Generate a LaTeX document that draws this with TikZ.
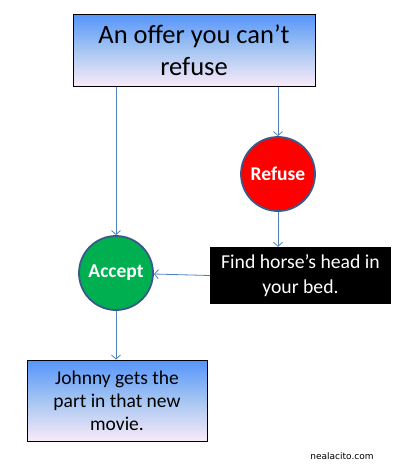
\documentclass[tikz,border=0pt]{standalone}
\usepackage{fontspec}
\setmainfont{Carlito}
\newfontfamily\sitefont{DejaVu Sans}
\usetikzlibrary{arrows.meta}
\definecolor{linkblue}{RGB}{79, 129, 189}
\definecolor{rimblue}{RGB}{56, 90, 138}
\definecolor{skyblue}{RGB}{85, 148, 250}
\definecolor{midblue}{RGB}{165, 198, 242}
\definecolor{palepink}{RGB}{250, 234, 248}
\definecolor{refusered}{RGB}{255, 0, 0}
\definecolor{acceptgreen}{RGB}{0, 176, 80}

\begin{document}
\begin{tikzpicture}[x=1pt, y=-1pt,
    gradbox/.style={rectangle, draw=black, line width=1pt, top color=skyblue, bottom color=palepink, middle color=midblue, align=center, inner sep=0pt},
    choice/.style={circle, draw=rimblue, line width=1.8pt, text=white, minimum size=74pt, inner sep=0pt, font=\fontsize{19.5}{23}\selectfont\bfseries},
    link/.style={-{Straight Barb[length=4pt, width=9pt]}, line width=0.8pt, linkblue}]
        \useasboundingbox (0,0) rectangle (400,472);
        \node[gradbox, minimum width=242pt, minimum height=72pt, font=\fontsize{26.5}{32}\selectfont] (offer) at (194,50) {An offer you can’t\\refuse};
        \node[choice, fill=refusered] (refuse) at (278,174) {Refuse};
        \node[choice, fill=acceptgreen] (accept) at (116,273) {Accept};
        \node[rectangle, fill=black, text=white, align=center, minimum width=181pt, minimum height=57pt, inner sep=0pt, font=\fontsize{19.7}{25}\selectfont] (horse) at (300.5,275.5) {Find horse’s head in\\your bed.};
        \node[gradbox, minimum width=180pt, minimum height=81pt, font=\fontsize{19.5}{23}\selectfont] (johnny) at (117,400.5) {Johnny gets the\\part in that new\\movie.};
        \draw[link] (offer.south -| accept.north) -- (accept.north);
        \draw[link] (offer.south -| refuse.north) -- (refuse.north);
        \draw[link] (refuse.south) -- (refuse.south |- horse.north);
        \draw[link] (horse.west) -- (accept);
        \draw[link] (accept.south) -- (accept.south |- johnny.north);
        \node[font=\sitefont\fontsize{9}{11}\selectfont] (site) at (342,456) {nealacito.com};
    \end{tikzpicture}
\end{document}
